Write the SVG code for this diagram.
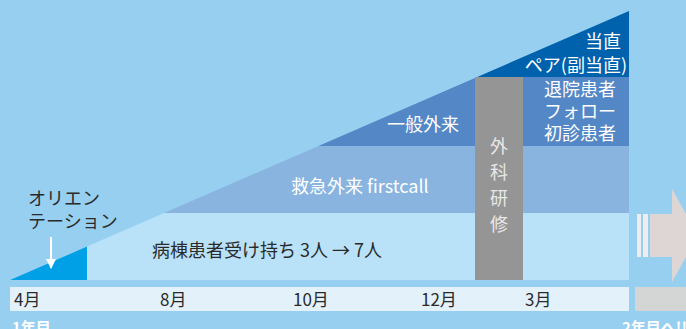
<svg xmlns="http://www.w3.org/2000/svg" width="686" height="329" viewBox="0 0 686 329">
<defs>
<style>
.t{font-family:"Noto Sans CJK JP","Noto Sans",sans-serif;font-size:18px}
.dk{fill:#2a2a2a}
.wh{fill:#ffffff}
.tl{font-family:"Noto Sans CJK JP","Noto Sans",sans-serif;font-size:17px;fill:#2a2a2a}
.yr{font-family:"Noto Sans CJK JP","Noto Sans",sans-serif;font-size:15px;font-weight:bold;fill:#ffffff}
</style>
<clipPath id="tri"><polygon points="10,280 629,11 629,280"/></clipPath>
<marker id="ah" viewBox="0 0 10 10" refX="9" refY="5" markerWidth="10" markerHeight="10" markerUnits="userSpaceOnUse" orient="auto"><polygon points="0,0 10,5 0,10" fill="#ffffff"/></marker>
</defs>
<rect width="686" height="329" fill="#97cff0"/>
<g id="bands" clip-path="url(#tri)">
<rect x="0" y="0" width="686" height="77" fill="#0062ad"/>
<rect x="0" y="77" width="686" height="69" fill="#5487c5"/>
<rect x="0" y="146" width="686" height="67" fill="#88b4df"/>
<rect x="0" y="213" width="686" height="67" fill="#b9e2f8"/>
<rect x="0" y="213" width="87" height="67" fill="#00a0e6"/>
</g>
<g id="surgery">
<rect x="475" y="77" width="48" height="203" fill="#959595"/>
<text class="t" x="499" y="153" fill="#e8e8e8" text-anchor="middle">外</text>
<text class="t" x="499" y="179" fill="#e8e8e8" text-anchor="middle">科</text>
<text class="t" x="499" y="205" fill="#e8e8e8" text-anchor="middle">研</text>
<text class="t" x="499" y="231" fill="#e8e8e8" text-anchor="middle">修</text>
</g>
<g id="orientation">
<text class="t dk" x="28" y="205">オリエン</text>
<text class="t dk" x="28" y="228">テーション</text>
</g>
<g id="ward"><text class="t dk" x="152" y="257">病棟患者受け持ち 3人 → 7人</text></g>
<g id="emergency"><text class="t wh" x="291" y="193">救急外来 firstcall</text></g>
<g id="general"><text class="t wh" x="387" y="131">一般外来</text></g>
<g id="followup">
<text class="t wh" x="580" y="96" text-anchor="middle">退院患者</text>
<text class="t wh" x="580" y="118" text-anchor="middle">フォロー</text>
<text class="t wh" x="580" y="140" text-anchor="middle">初診患者</text>
</g>
<g id="duty">
<text class="t wh" x="621" y="48" text-anchor="end">当直</text>
<text class="t wh" x="627" y="72" text-anchor="end">ペア(副当直)</text>
</g>
<g id="timeline">
<rect x="10" y="287" width="619" height="24" fill="#e3f1fb"/>
<rect x="635" y="287" width="51" height="24" fill="#d4d6d6"/>
<text class="tl" x="14" y="306">4月</text>
<text class="tl" x="160" y="306">8月</text>
<text class="tl" x="293" y="306">10月</text>
<text class="tl" x="421" y="306">12月</text>
<text class="tl" x="525" y="306">3月</text>
<text class="yr" x="12" y="333">1年目</text>
<text class="yr" x="622" y="333">2年目へ!!</text>
</g>
<g id="connectors">
<line x1="51" y1="237" x2="51" y2="268" stroke="#ffffff" stroke-width="2" marker-end="url(#ah)"/>
<rect x="637" y="214" width="4" height="43" fill="#eeeeee"/>
<rect x="643" y="214" width="5" height="43" fill="#eeeeee"/>
<polygon points="650,214 672,214 672,189 698,235.5 672,282 672,257 650,257" fill="#ddd6d4"/>
</g>
</svg>
